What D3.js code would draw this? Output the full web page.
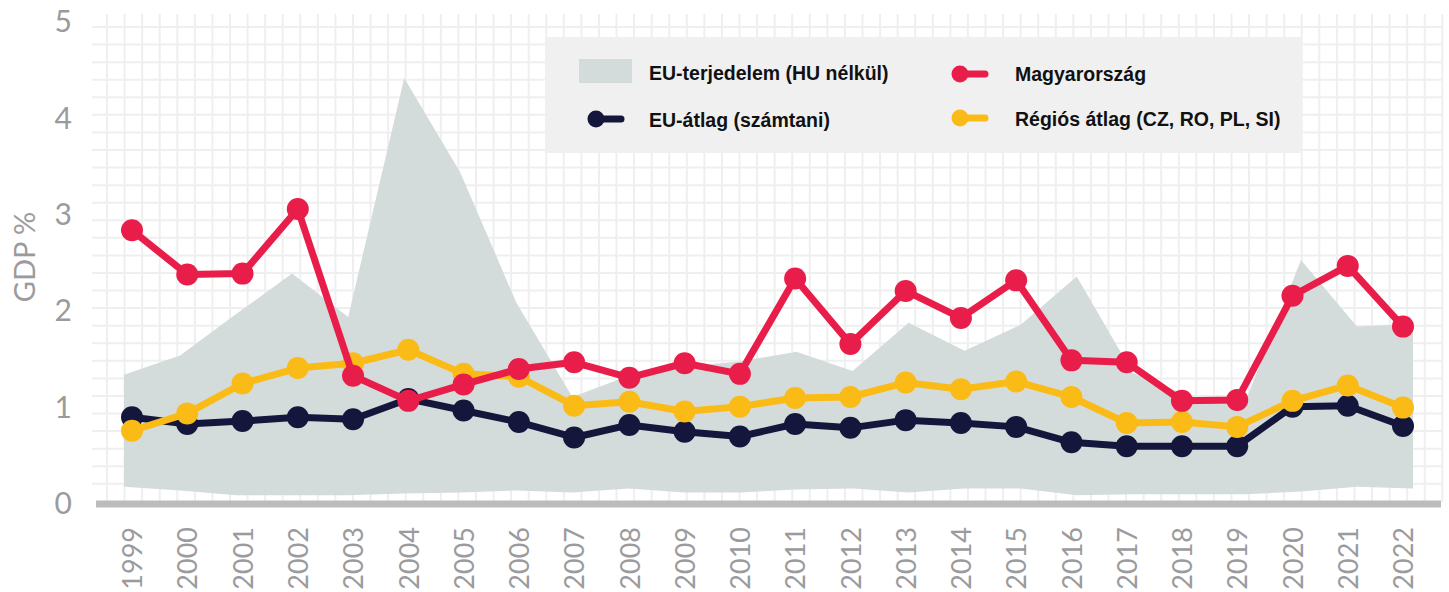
<!DOCTYPE html>
<html><head><meta charset="utf-8">
<script src="https://cdn.jsdelivr.net/npm/d3@7/dist/d3.min.js"></script>
<style>
html,body{margin:0;padding:0;background:#fff;}
svg{display:block;}
</style></head>
<body>
<svg id="chart" width="1449" height="592"></svg>
<script>
const years = ["1999","2000","2001","2002","2003","2004","2005","2006","2007","2008","2009","2010","2011","2012","2013","2014","2015","2016","2017","2018","2019","2020","2021","2022"];
const hungary = [2.84,2.38,2.39,3.06,1.33,1.07,1.24,1.40,1.47,1.31,1.46,1.35,2.34,1.66,2.21,1.93,2.32,1.49,1.47,1.07,1.08,2.16,2.47,1.84];
const euAverage = [0.90,0.83,0.86,0.90,0.88,1.09,0.97,0.85,0.69,0.82,0.75,0.70,0.83,0.79,0.87,0.84,0.80,0.64,0.60,0.60,0.60,1.01,1.02,0.81];
const regional = [0.76,0.94,1.25,1.41,1.46,1.60,1.35,1.32,1.02,1.06,0.96,1.01,1.10,1.11,1.26,1.19,1.27,1.11,0.84,0.85,0.80,1.07,1.23,1.00];
const euRangeMax = [1.34,1.54,1.97,2.39,1.94,4.42,3.44,2.09,1.11,1.33,1.42,1.48,1.58,1.38,1.88,1.59,1.86,2.36,1.36,1.12,1.05,2.53,1.84,1.87];
const euRangeMin = [0.18,0.14,0.09,0.09,0.09,0.11,0.12,0.14,0.12,0.16,0.12,0.12,0.15,0.16,0.12,0.16,0.16,0.09,0.10,0.10,0.10,0.13,0.18,0.16];
const yTicks = [0,1,2,3,4,5];
const legendLabels = {
  range: "EU-terjedelem (HU nélkül)",
  hu: "Magyarország",
  eu: "EU-átlag (számtani)",
  reg: "Régiós átlag (CZ, RO, PL, SI)"
};
const yLabel = "GDP %";

const colors = {hu:"#e91d4a", eu:"#14163c", reg:"#fbbb17", area:"#d4dcdb", grid:"#efefef", text:"#9b9b9d", base:"#bcbcbe", legendBg:"#f0f0f0"};

const svg = d3.select("#chart");

const x = d3.scalePoint().domain(years).range([132, 1403]);
const xArea = d3.scalePoint().domain(years).range([124, 1413]);
const y = d3.scaleLinear().domain([0,5]).range([504, 22]);

// decorative grid
const gridStep = 17.57;
const grid = svg.append("g");
const vx = d3.range(107, 1443, gridStep);
const hy = d3.range(27, 500, gridStep);
grid.selectAll("line.v").data(vx).join("line")
  .attr("x1", d=>d).attr("x2", d=>d).attr("y1", 14).attr("y2", 502)
  .attr("stroke", colors.grid).attr("stroke-width", 2);
grid.selectAll("line.h").data(hy).join("line")
  .attr("x1", 92).attr("x2", 1442).attr("y1", d=>d).attr("y2", d=>d)
  .attr("stroke", colors.grid).attr("stroke-width", 2);

// area
const areaData = years.map((yr,i)=>({yr, lo:euRangeMin[i], hi:euRangeMax[i]}));
svg.append("path").datum(areaData)
  .attr("fill", colors.area)
  .attr("d", d3.area().x(d=>xArea(d.yr)).y0(d=>y(d.lo)).y1(d=>y(d.hi)));

// baseline bar
svg.append("rect").attr("x", 96).attr("y", y(0)-3.5).attr("width", 1345).attr("height", 7).attr("fill", colors.base);

const axisFont = "Lato, 'Open Sans', sans-serif";
// y axis
const yAxis = svg.append("g").attr("transform","translate(72,0)")
  .call(d3.axisLeft(y).tickValues(yTicks).tickSize(0).tickPadding(0).tickFormat(d3.format("d")));
yAxis.select(".domain").remove();
yAxis.selectAll("text").attr("fill", colors.text).style("font-family",axisFont).style("font-weight",400).style("font-size","30px");

// x axis labels
const xAxis = svg.append("g").attr("transform","translate(0,527)")
  .call(d3.axisBottom(x).tickSize(0).tickPadding(0));
xAxis.select(".domain").remove();
xAxis.selectAll("text")
  .attr("fill", colors.text)
  .style("font-family",axisFont).style("font-weight",400).style("font-size","27px")
  .attr("transform","rotate(-90)")
  .attr("text-anchor","end")
  .attr("x", 0).attr("y", 0).attr("dy","0.36em");

// y label
svg.append("text").attr("transform","translate(25,257) rotate(-90)")
  .attr("text-anchor","middle").attr("dy","0.36em")
  .attr("fill", colors.text)
  .style("font-family",axisFont).style("font-weight",400).style("font-size","29px")
  .text(yLabel);

// series
const series = [
  {key:"eu", values: euAverage, color: colors.eu},
  {key:"reg", values: regional, color: colors.reg},
  {key:"hu", values: hungary, color: colors.hu}
];
const line = d3.line().x(d=>x(d.yr)).y(d=>y(d.v));
series.forEach(s=>{
  const pts = years.map((yr,i)=>({yr, v:s.values[i]}));
  const g = svg.append("g");
  g.append("path").datum(pts).attr("fill","none").attr("stroke", s.color)
    .attr("stroke-width", 7).attr("stroke-linejoin","round").attr("d", line);
  g.selectAll("circle").data(pts).join("circle")
    .attr("cx", d=>x(d.yr)).attr("cy", d=>y(d.v)).attr("r", 11).attr("fill", s.color);
});

// legend
const lg = svg.append("g");
lg.append("rect").attr("x",545).attr("y",37).attr("width",757).attr("height",116).attr("fill",colors.legendBg);
const lfont = "'Liberation Sans', Arial, sans-serif";
function ltext(tx, ty, t){
  lg.append("text").attr("x",tx).attr("y",ty).attr("dy","0.36em")
    .attr("fill","#111").style("font-family",lfont).style("font-weight",700).style("font-size","19.5px")
    .text(t);
}
lg.append("rect").attr("x",579).attr("y",59).attr("width",53).attr("height",24).attr("fill",colors.area);
ltext(649, 73, legendLabels.range);
function lmark(cx, cy, c){
  lg.append("line").attr("x1",cx).attr("x2",cx+25).attr("y1",cy).attr("y2",cy)
    .attr("stroke",c).attr("stroke-width",7).attr("stroke-linecap","round");
  lg.append("circle").attr("cx",cx).attr("cy",cy).attr("r",8.5).attr("fill",c);
}
lmark(596, 119, colors.eu);
ltext(649, 120, legendLabels.eu);
lmark(960, 74, colors.hu);
ltext(1015, 74, legendLabels.hu);
lmark(960, 118, colors.reg);
ltext(1015, 119, legendLabels.reg);
</script>
</body></html>
